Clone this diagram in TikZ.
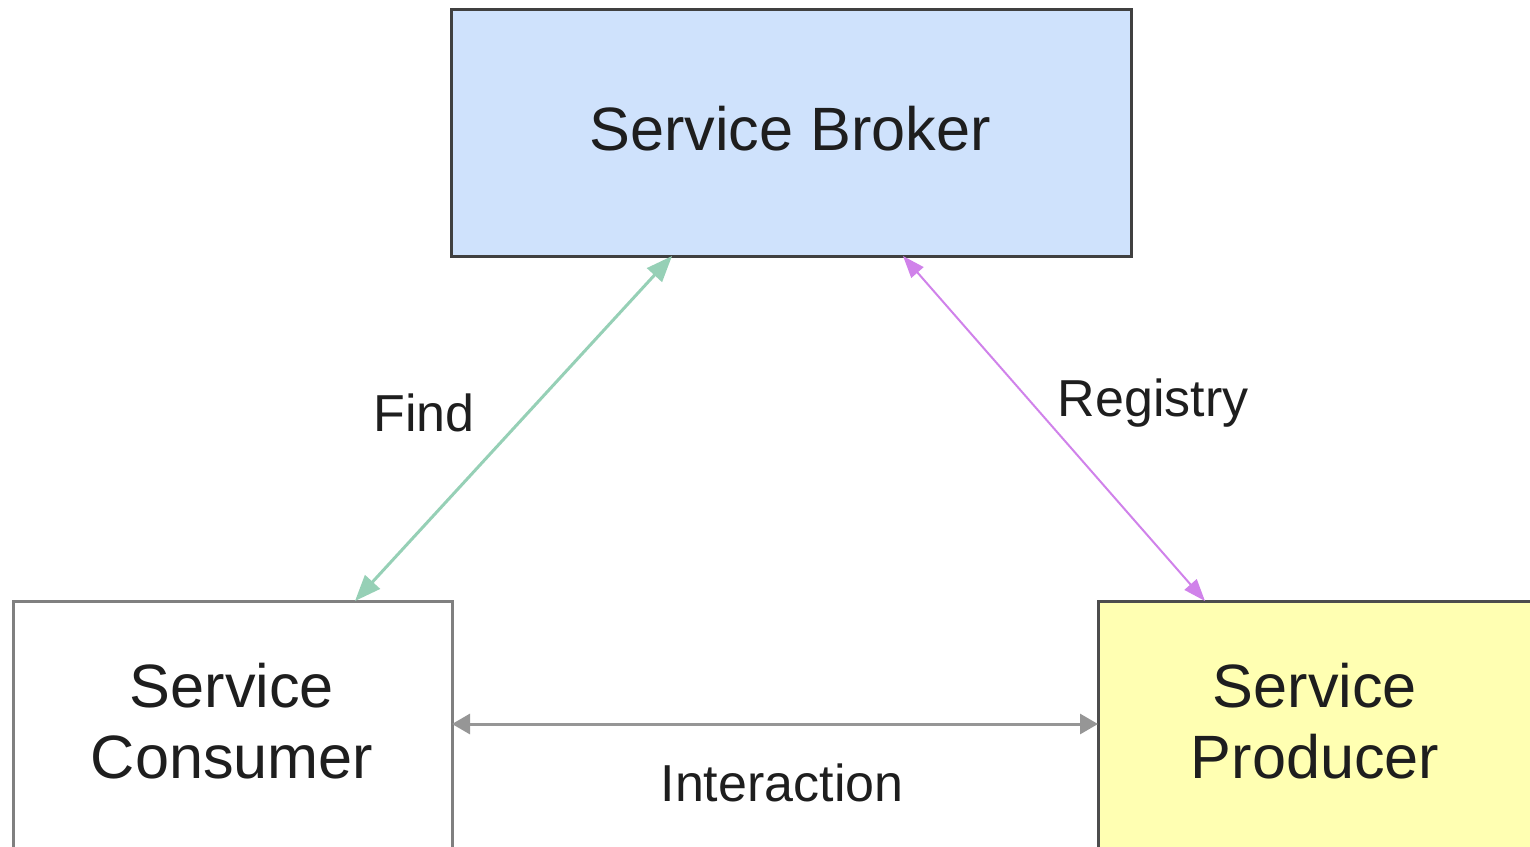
\documentclass[tikz,border=0pt]{standalone}
\usepackage{fontspec}
\setmainfont{Liberation Sans}
\usetikzlibrary{arrows.meta}
\definecolor{brokerfill}{RGB}{207,226,252}
\definecolor{brokerdraw}{RGB}{64,64,64}
\definecolor{prodfill}{RGB}{255,255,178}
\definecolor{findcol}{RGB}{150,208,182}
\definecolor{regcol}{RGB}{208,130,234}
\definecolor{intcol}{RGB}{150,150,150}
\definecolor{txt}{RGB}{30,30,30}
\begin{document}
\begin{tikzpicture}[x=0.5pt,y=-0.5pt,
  box/.style={draw, line width=1.5pt, inner sep=0pt, outer sep=0pt, anchor=north west},
  boxtext/.style={text=txt, font=\fontsize{30.6}{35.5}\selectfont, align=center},
  lbl/.style={text=txt, font=\fontsize{26}{30}\selectfont},
  conn/.style={line width=1.5pt}]
\useasboundingbox (0,0) rectangle (1530,846);
\node[box, draw=brokerdraw, fill=brokerfill, minimum width=340pt, minimum height=123.5pt] (broker) at (451,9) {};
\node[boxtext] (brokertxt) at (790,129) {Service Broker};
\node[box, draw=gray, fill=white, minimum width=219.5pt, minimum height=300pt] (cons) at (13,601) {};
\node[boxtext] (constxt) at (232,721) {Service\\Consumer};
\node[box, draw=brokerdraw!80!gray, fill=prodfill, minimum width=300pt, minimum height=300pt] (prod) at (1098,601) {};
\node[boxtext] (prodtxt) at (1315,721) {Service\\Producer};
\draw[conn, draw=findcol, {Triangle[length=13pt,width=10pt]}-{Triangle[length=13pt,width=10pt]}]
  ([xshift=171pt]cons.north west) -- ([xshift=110.5pt]broker.south west);
\draw[conn, line width=1pt, draw=regcol, {Triangle[length=11pt,width=8pt]}-{Triangle[length=11pt,width=8pt]}]
  ([xshift=226pt]broker.south west) -- ([xshift=53.5pt]prod.north west);
\draw[conn, draw=intcol, {Triangle[length=9pt,width=10pt]}-{Triangle[length=9pt,width=10pt]}]
  ([yshift=-61.5pt]cons.north east) -- ([yshift=-61.5pt]prod.north west);
\node[lbl] (findlbl) at (424,413) {Find};
\node[lbl] (reglbl) at (1153,403) {Registry};
\node[lbl] (intlbl) at (782,783) {Interaction};
\end{tikzpicture}
\end{document}
